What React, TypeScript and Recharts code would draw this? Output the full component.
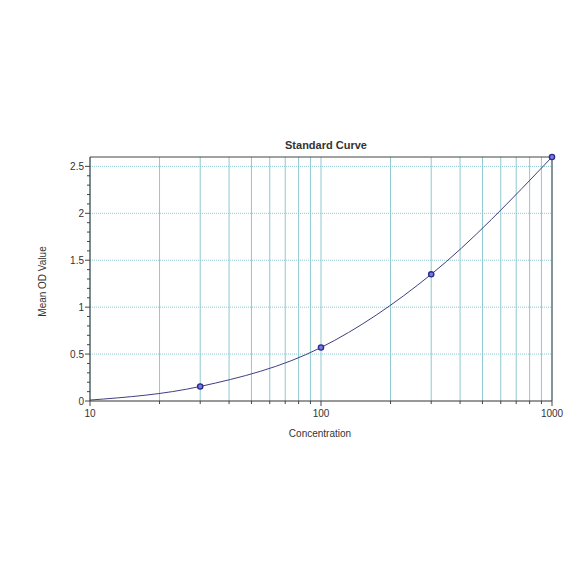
import React from 'react';
import { LineChart, Line, XAxis, YAxis, CartesianGrid, ReferenceLine } from 'recharts';

// standard curve points
const concentration = [10, 30, 100, 300, 1000];
const meanOD = [0.01, 0.155, 0.57, 1.35, 2.6];

const xGridTicks = [10, 20, 30, 40, 50, 60, 70, 80, 90, 100, 200, 300, 400, 500, 600, 700, 800, 900, 1000];
const xLabelTicks = [10, 100, 1000];
const yMajorTicks = [0, 0.5, 1, 1.5, 2, 2.5];
const yMinorTicks = [0, 0.1, 0.2, 0.3, 0.4, 0.5, 0.6, 0.7, 0.8, 0.9, 1, 1.1, 1.2, 1.3, 1.4, 1.5, 1.6, 1.7, 1.8, 1.9, 2, 2.1, 2.2, 2.3, 2.4, 2.5];

const data = concentration.map((c, i) => ({ conc: c, od: meanOD[i] }));

const FONT = '"Liberation Sans", Arial, sans-serif';
const TEXT = '#333';
const GRID = '#8fc9d1';

const YTick = (props: any) => {
  const { x, y, payload } = props;
  const v = payload.value;
  const major = yMajorTicks.some((t) => Math.abs(t - v) < 1e-6);
  return (
    <g>
      <line x1={x - (major ? 5 : 3)} x2={x} y1={y} y2={y} stroke="#444" />
      {major && (
        <text x={x - 6} y={y} dy={3.5} textAnchor="end" fontSize={10} fontFamily={FONT} fill={TEXT}>
          {v}
        </text>
      )}
    </g>
  );
};

const XTick = (props: any) => {
  const { x, y, payload } = props;
  const v = payload.value;
  const major = xLabelTicks.includes(v);
  return (
    <g>
      <line x1={x} x2={x} y1={y} y2={y + (major ? 5 : 3)} stroke="#444" />
      {major && (
        <text x={x} y={y + 16} textAnchor="middle" fontSize={10} fontFamily={FONT} fill={TEXT}>
          {v}
        </text>
      )}
    </g>
  );
};

// the lowest standard sits on the axis corner and shows no marker
const Dot = (props: any) => {
  const { cx, cy, index } = props;
  if (index === 0) return <g key={index} />;
  return <circle key={index} cx={cx} cy={cy} r={2.6} stroke="#2a2a92" strokeWidth={1.4} fill="#7b7bd8" />;
};

const App = () => {
  return (
    <div style={{ position: 'absolute', left: 0, top: 0, width: 584, height: 584, background: '#fff' }}>
      <LineChart width={584} height={584} data={data} margin={{ top: 157, right: 32, bottom: 153, left: 50 }}>
        <CartesianGrid horizontal={false} stroke={GRID} strokeWidth={1} />
        {yMajorTicks.slice(1).map((t) => (
          <ReferenceLine key={t} y={t} stroke={GRID} strokeDasharray="1 1" />
        ))}
        <ReferenceLine y={2.6} stroke="#444" />
        <ReferenceLine x={1000} stroke="#444" />
        <XAxis
          dataKey="conc"
          type="number"
          scale="log"
          domain={[10, 1000]}
          ticks={xGridTicks}
          interval={0}
          height={30}
          tickSize={0}
          tickMargin={0}
          tickLine={false}
          axisLine={{ stroke: '#333' }}
          tick={<XTick />}
        />
        <YAxis
          type="number"
          domain={[0, 2.6]}
          ticks={yMinorTicks}
          interval={0}
          width={40}
          tickSize={0}
          tickMargin={0}
          tickLine={false}
          axisLine={{ stroke: '#333' }}
          tick={<YTick />}
        />
        <Line
          type="monotone"
          dataKey="od"
          stroke="#3f3f82"
          strokeWidth={1}
          dot={<Dot />}
          activeDot={false}
          isAnimationActive={false}
        />
      </LineChart>
      <div
        style={{
          position: 'absolute', left: 226, top: 139, width: 200, textAlign: 'center',
          fontFamily: FONT, fontSize: 11, fontWeight: 'bold', color: TEXT,
        }}
      >
        Standard Curve
      </div>
      <div
        style={{
          position: 'absolute', left: 220, top: 428, width: 200, textAlign: 'center',
          fontFamily: FONT, fontSize: 10, color: TEXT,
        }}
      >
        Concentration
      </div>
      <div
        style={{
          position: 'absolute', left: -58, top: 276, width: 200, textAlign: 'center',
          transform: 'rotate(-90deg)', fontFamily: FONT, fontSize: 10, color: TEXT,
        }}
      >
        Mean OD Value
      </div>
    </div>
  );
};

export default App;
